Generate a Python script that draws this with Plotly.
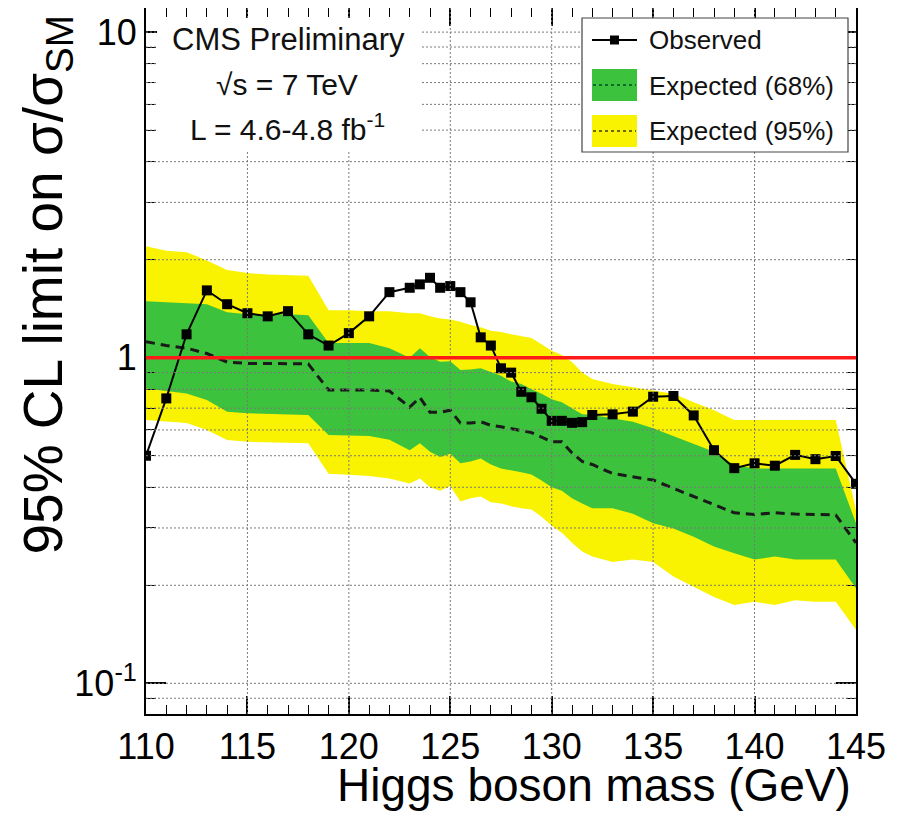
import math
import plotly.graph_objects as go

# ---------------- data ----------------
mass = [110, 111, 112, 113, 114, 115, 116, 117, 118, 119, 120, 121, 122,
        123, 123.5, 124, 124.5, 125, 125.5, 126, 126.5, 127, 127.5, 128, 128.5,
        129, 129.5, 130, 130.5, 131, 131.5, 132,
        133, 134, 135, 136, 137, 138, 139, 140, 141, 142, 143, 144, 145]

observed = [0.50, 0.75, 1.18, 1.61, 1.46, 1.37, 1.34, 1.39, 1.18, 1.09, 1.19, 1.34, 1.59,
            1.64, 1.68, 1.76, 1.64, 1.66, 1.59, 1.48, 1.155, 1.09, 0.928, 0.90, 0.786,
            0.756, 0.697, 0.64, 0.64, 0.631, 0.634, 0.667,
            0.67, 0.683, 0.759, 0.763, 0.665, 0.52, 0.458, 0.474, 0.466, 0.503, 0.488, 0.499, 0.41]

exp_median = [1.12, 1.09, 1.07, 1.03, 0.97, 0.96, 0.96, 0.96, 0.957, 0.796, 0.796, 0.796, 0.79,
              0.705, 0.755, 0.68, 0.68, 0.69, 0.63, 0.63, 0.636, 0.62, 0.614, 0.605, 0.595,
              0.589, 0.57, 0.552, 0.552, 0.51, 0.48, 0.47,
              0.441, 0.431, 0.421, 0.397, 0.375, 0.353, 0.334, 0.33, 0.334, 0.331, 0.33, 0.329, 0.27]

exp68_hi = [1.49, 1.48, 1.47, 1.46, 1.38, 1.36, 1.36, 1.36, 1.35, 1.11, 1.11, 1.11, 1.07,
            1.0, 1.07, 1.005, 0.972, 0.975, 0.917, 0.92, 0.928, 0.906, 0.88, 0.845, 0.83,
            0.80, 0.775, 0.745, 0.73, 0.70, 0.67, 0.667,
            0.65, 0.636, 0.607, 0.575, 0.545, 0.514, 0.468, 0.457, 0.457, 0.457, 0.457, 0.457, 0.31]

exp68_lo = [0.805, 0.792, 0.777, 0.742, 0.683, 0.675, 0.672, 0.67, 0.667, 0.579, 0.577, 0.575, 0.56,
            0.52, 0.546, 0.514, 0.496, 0.507, 0.474, 0.48, 0.49, 0.47, 0.457, 0.452, 0.445,
            0.438, 0.42, 0.40, 0.39, 0.37, 0.357, 0.345,
            0.345, 0.332, 0.31, 0.299, 0.282, 0.263, 0.251, 0.24, 0.245, 0.24, 0.24, 0.24, 0.196]

exp95_hi = [2.2, 2.13, 2.11, 1.99, 1.86, 1.82, 1.80, 1.79, 1.785, 1.40, 1.40, 1.39, 1.39,
            1.37, 1.37, 1.34, 1.32, 1.31, 1.29, 1.26, 1.24, 1.21, 1.20, 1.18, 1.165,
            1.15, 1.10, 1.05, 1.02, 0.97, 0.90, 0.86,
            0.83, 0.81, 0.79, 0.775, 0.73, 0.69, 0.644, 0.644, 0.644, 0.644, 0.644, 0.644, 0.34]

exp95_lo = [0.644, 0.636, 0.63, 0.60, 0.559, 0.552, 0.55, 0.548, 0.546, 0.44, 0.437, 0.433, 0.426,
            0.411, 0.426, 0.40, 0.39, 0.404, 0.362, 0.37, 0.375, 0.36, 0.357, 0.35, 0.345,
            0.342, 0.325, 0.305, 0.29, 0.27, 0.254, 0.245,
            0.236, 0.24, 0.236, 0.213, 0.198, 0.184, 0.174, 0.178, 0.174, 0.18, 0.178, 0.178, 0.146]

sm_reference = 1.0

x_ticks = [110, 115, 120, 125, 130, 135, 140, 145]
x_tick_labels = ["110", "115", "120", "125", "130", "135", "140", "145"]
y_ticks = [0.1, 1, 10]
y_tick_labels = ["10<sup>-1</sup>", "1", "10"]
y_minor = [0.09, 0.2, 0.3, 0.4, 0.5, 0.6, 0.7, 0.8, 0.9, 2, 3, 4, 5, 6, 7, 8, 9]
x_grid = [115, 120, 125, 130, 135, 140]
y_grid = [0.09, 0.1, 0.2, 0.3, 0.4, 0.5, 0.6, 0.7, 0.8, 0.9, 2, 3, 4, 5, 6, 7, 8, 9, 10]

# ---------------- styles ----------------
FONT = "Liberation Sans, Arial, Helvetica, sans-serif"
YELLOW = "#f9f200"
GREEN = "#3cc23c"
GRID = "#7a7a7a"
X_RANGE = [110, 145]
Y_RANGE = [math.log10(0.0805), math.log10(11.86)]

# the page body has an 8px margin: figure is placed at (8, 8) in the window
FIG_W, FIG_H = 895, 805
M_L, M_R, M_T, M_B = 138, 47, 0, 99
PLOT_LEFT = 8 + M_L            # window pixels
PLOT_W = FIG_W - M_L - M_R
PLOT_BOTTOM = 8 + FIG_H - M_B
PLOT_H = FIG_H - M_T - M_B


def px_x(p):
    return (p - PLOT_LEFT) / PLOT_W


def px_y(p):
    return (PLOT_BOTTOM - p) / PLOT_H


fig = go.Figure()

fig.add_trace(go.Scatter(
    x=mass + mass[::-1], y=exp95_hi + exp95_lo[::-1],
    fill="toself", fillcolor=YELLOW, line=dict(width=0), mode="lines",
    hoverinfo="skip", showlegend=False, name="Expected (95%)"))
fig.add_trace(go.Scatter(
    x=mass + mass[::-1], y=exp68_hi + exp68_lo[::-1],
    fill="toself", fillcolor=GREEN, line=dict(width=0), mode="lines",
    hoverinfo="skip", showlegend=False, name="Expected (68%)"))
fig.add_trace(go.Scatter(
    x=mass, y=exp_median, mode="lines",
    line=dict(color="#1a1a1a", width=3, dash="9px,6px"),
    showlegend=False, name="Expected median"))
fig.add_trace(go.Scatter(
    x=mass, y=observed, mode="lines+markers",
    line=dict(color="black", width=2),
    marker=dict(symbol="square", size=10, color="black"),
    showlegend=False, name="Observed"))

shapes = []
# grid drawn on top of the bands
for gx in x_grid:
    shapes.append(dict(type="line", xref="x", yref="paper", x0=gx, x1=gx, y0=0, y1=1,
                       line=dict(color=GRID, width=1, dash="2px,2px"), layer="above"))
for gy in y_grid:
    shapes.append(dict(type="line", xref="paper", yref="y", x0=0, x1=1, y0=gy, y1=gy,
                       line=dict(color=GRID, width=1, dash="2px,2px"), layer="above"))
# SM reference line
shapes.append(dict(type="line", xref="x", yref="y", x0=X_RANGE[0], x1=X_RANGE[1],
                   y0=sm_reference, y1=sm_reference,
                   line=dict(color="#ff1a1a", width=3.5), layer="above"))

# white panel behind the CMS label
shapes.append(dict(type="rect", xref="paper", yref="paper",
                   x0=px_x(157), x1=px_x(420), y0=px_y(150), y1=px_y(18),
                   fillcolor="white", line=dict(width=0), layer="above"))
# legend box
shapes.append(dict(type="rect", xref="paper", yref="paper",
                   x0=px_x(582), x1=px_x(848), y0=px_y(152), y1=px_y(18),
                   fillcolor="white", line=dict(color="#444444", width=1.2), layer="above"))
# legend: observed
shapes.append(dict(type="line", xref="paper", yref="paper",
                   x0=px_x(592), x1=px_x(637), y0=px_y(40), y1=px_y(40),
                   line=dict(color="black", width=2), layer="above"))
shapes.append(dict(type="rect", xref="paper", yref="paper",
                   x0=px_x(610), x1=px_x(619), y0=px_y(44.5), y1=px_y(35.5),
                   fillcolor="black", line=dict(width=0), layer="above"))
# legend: 68%
shapes.append(dict(type="rect", xref="paper", yref="paper",
                   x0=px_x(592), x1=px_x(637), y0=px_y(101), y1=px_y(69),
                   fillcolor=GREEN, line=dict(width=0), layer="above"))
shapes.append(dict(type="line", xref="paper", yref="paper",
                   x0=px_x(593), x1=px_x(636), y0=px_y(85), y1=px_y(85),
                   line=dict(color="#0d6b2a", width=2, dash="3px,3px"), layer="above"))
# legend: 95%
shapes.append(dict(type="rect", xref="paper", yref="paper",
                   x0=px_x(592), x1=px_x(637), y0=px_y(147), y1=px_y(115),
                   fillcolor=YELLOW, line=dict(width=0), layer="above"))
shapes.append(dict(type="line", xref="paper", yref="paper",
                   x0=px_x(593), x1=px_x(636), y0=px_y(131), y1=px_y(131),
                   line=dict(color="#6b6b00", width=2, dash="3px,3px"), layer="above"))

TXT = "#111111"
annotations = [
    dict(text="CMS Preliminary", x=px_x(288), y=px_y(39), xref="paper", yref="paper",
         showarrow=False, xanchor="center", yanchor="middle",
         font=dict(family=FONT, size=31, color=TXT)),
    dict(text="\u221As = 7 TeV", x=px_x(287), y=px_y(84), xref="paper", yref="paper",
         showarrow=False, xanchor="center", yanchor="middle",
         font=dict(family=FONT, size=30, color=TXT)),
    dict(text="L = 4.6-4.8 fb<sup>-1</sup>", x=px_x(287), y=px_y(127), xref="paper", yref="paper",
         showarrow=False, xanchor="center", yanchor="middle",
         font=dict(family=FONT, size=30, color=TXT)),
    dict(text="Observed", x=px_x(647), y=px_y(40), xref="paper", yref="paper",
         showarrow=False, xanchor="left", yanchor="middle",
         font=dict(family=FONT, size=26, color=TXT)),
    dict(text="Expected (68%)", x=px_x(647), y=px_y(86), xref="paper", yref="paper",
         showarrow=False, xanchor="left", yanchor="middle",
         font=dict(family=FONT, size=26, color=TXT)),
    dict(text="Expected (95%)", x=px_x(647), y=px_y(131), xref="paper", yref="paper",
         showarrow=False, xanchor="left", yanchor="middle",
         font=dict(family=FONT, size=26, color=TXT)),
    dict(text="Higgs boson mass (GeV)", x=px_x(853), y=px_y(785), xref="paper", yref="paper",
         showarrow=False, xanchor="right", yanchor="middle",
         font=dict(family=FONT, size=46, color="black")),
    dict(text="95% CL limit on \u03c3/\u03c3<sub>SM</sub>", x=px_x(46), y=px_y(14),
         xref="paper", yref="paper", textangle=-90,
         showarrow=False, xanchor="center", yanchor="top",
         font=dict(family=FONT, size=55, color="black")),
]

fig.update_layout(
    width=FIG_W, height=FIG_H,
    margin=dict(l=M_L, r=M_R, t=M_T, b=M_B, autoexpand=False),
    paper_bgcolor="white", plot_bgcolor="white",
    showlegend=False,
    shapes=shapes, annotations=annotations,
    xaxis=dict(range=X_RANGE, tickvals=x_ticks, ticktext=x_tick_labels,
               ticks="inside", ticklen=18, tickwidth=1.5, tickcolor="black",
               showline=True, linecolor="black", linewidth=2, mirror="ticks",
               showgrid=False, zeroline=False, layer="above traces",
               tickfont=dict(family=FONT, size=36, color="black"),
               minor=dict(dtick=1, ticks="inside", ticklen=9, tickwidth=1.2,
                          tickcolor="black", showgrid=False)),
    yaxis=dict(type="log", range=Y_RANGE, tickvals=y_ticks, ticktext=y_tick_labels,
               ticks="inside", ticklen=20, tickwidth=1.5, tickcolor="black",
               showline=True, linecolor="black", linewidth=2, mirror="ticks",
               showgrid=False, zeroline=False, layer="above traces",
               tickfont=dict(family=FONT, size=36, color="black"),
               minor=dict(tickvals=y_minor, ticks="inside", ticklen=10, tickwidth=1.2,
                          tickcolor="black", showgrid=False)),
)

fig.write_html("out.html")
